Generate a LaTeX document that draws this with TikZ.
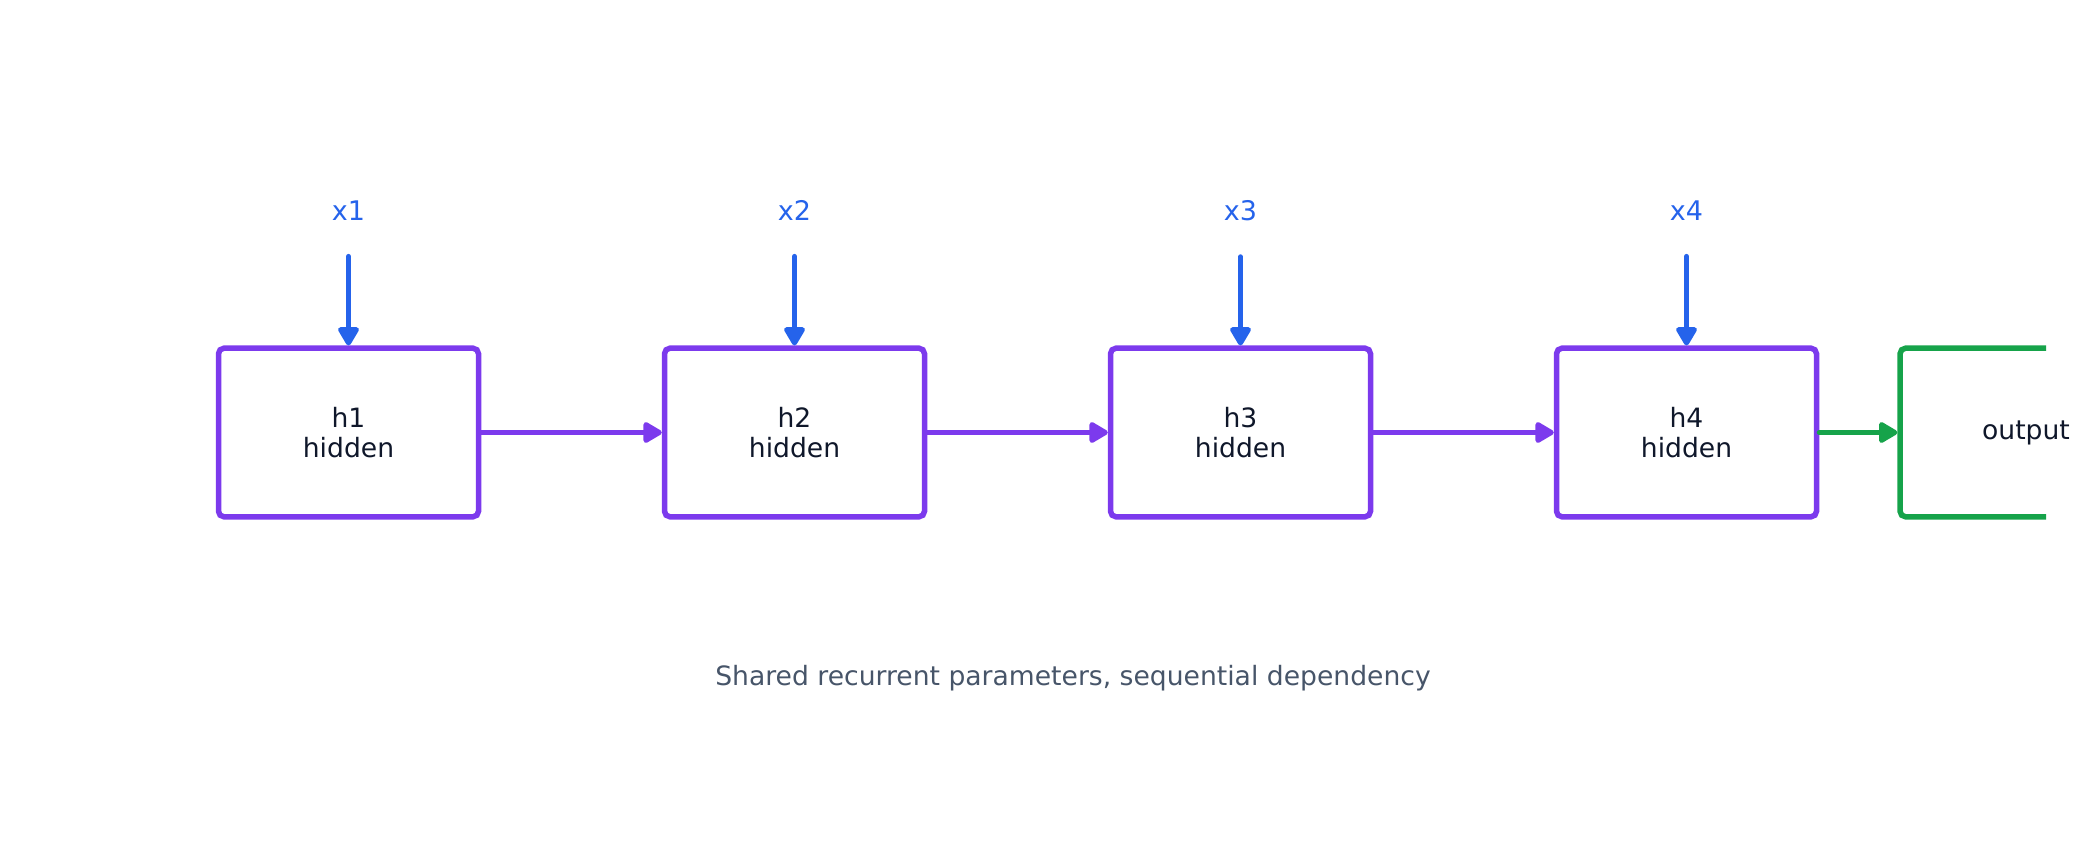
\documentclass[tikz,border=0pt]{standalone}
\usepackage{fontspec}
\setmainfont{DejaVu Sans}
\usetikzlibrary{arrows.meta}
\definecolor{cpurple}{HTML}{7C3AED}
\definecolor{cblue}{HTML}{2563EB}
\definecolor{cgreen}{HTML}{16A34A}
\definecolor{ctext}{HTML}{0F172A}
\definecolor{ccap}{HTML}{475569}
\tikzset{
  hbox/.style={draw=cpurple, line width=2.75pt, rounded corners=2.75pt, minimum width=130pt, minimum height=84.3pt, inner sep=0pt, align=center, text=ctext, font=\fontsize{13.3}{15}\selectfont},
  xlab/.style={text=cblue, font=\fontsize{13.5}{15}\selectfont, inner sep=0pt, anchor=base},
  conn/.style={line width=2.5pt, line cap=round, -{Triangle[length=10.5pt,width=11.5pt,round]}},
}
\begin{document}
\begin{tikzpicture}[x=0.5pt,y=-0.5pt]
\useasboundingbox (0,0) rectangle (2088,844);
\foreach \i/\x in {1/348.5,2/794.5,3/1240.5,4/1686.5}{
  \node[hbox] (h\i) at (\x,432.5) {h\i\\hidden};
  \node[xlab] (x\i) at (\x,221) {x\i};
  \draw[conn, cblue] (x\i.south) ++(0,35) -- (h\i.north);
}
\draw[conn, cpurple] (h1.east) -- (h2.west);
\draw[conn, cpurple] (h2.east) -- (h3.west);
\draw[conn, cpurple] (h3.east) -- (h4.west);
\node[minimum width=74.35pt, minimum height=87.05pt, inner sep=0pt, outer sep=0pt, anchor=west] (outbox) at (1897.3,432.5) {};
\node[text=ctext, font=\fontsize{13.3}{15}\selectfont, inner sep=0pt] (outlab) at (2026,432.5) {output};
\draw[cgreen, line width=2.75pt, rounded corners=2.75pt]
  ([yshift=-1.375pt]outbox.north east) -- ([xshift=1.375pt,yshift=-1.375pt]outbox.north west)
  -- ([xshift=1.375pt,yshift=1.375pt]outbox.south west) -- ([yshift=1.375pt]outbox.south east);
\draw[conn, cgreen] (h4.east) -- (outbox.west);
\node[text=ccap, font=\fontsize{13.3}{15}\selectfont, inner sep=0pt, anchor=base] (cap) at (1073,685) {Shared recurrent parameters, sequential dependency};
\end{tikzpicture}
\end{document}
